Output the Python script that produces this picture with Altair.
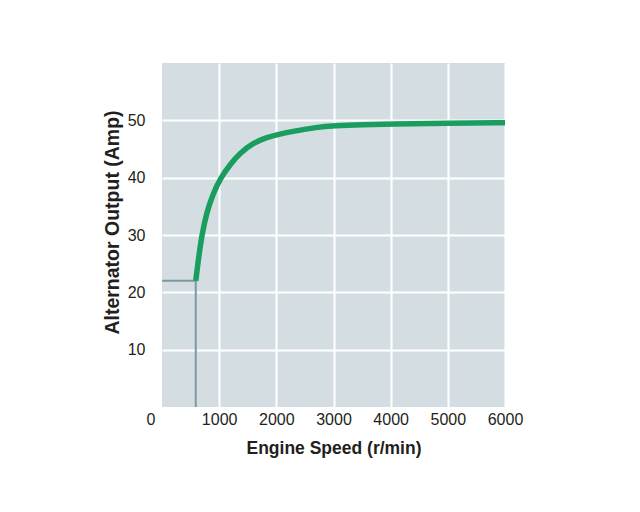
import altair as alt
import pandas as pd

# Alternator output curve
speed = [590, 640, 694, 781, 898, 1015, 1190, 1364, 1598, 1831, 2006, 2297, 2705, 3008, 3500, 4000, 5000, 6000]
amps = [22.0, 26.0, 29.8, 34.0, 37.3, 39.8, 42.3, 44.3, 46.05, 47.0, 47.5, 48.1, 48.8, 49.05, 49.25, 49.35, 49.5, 49.6]

# Idle reference lines
idle_speed = 590
idle_amps = 22

x_ticks = [1000, 2000, 3000, 4000, 5000, 6000]
y_ticks = [10, 20, 30, 40, 50]

FONT = "Liberation Sans, Arial, sans-serif"
TXT = "#231f20"

curve = pd.DataFrame({"speed": speed, "amps": amps})

xs = alt.Scale(domain=[0, 6000], nice=False, zero=False)
ys = alt.Scale(domain=[0, 60], nice=False)

x_axis = alt.Axis(
    values=x_ticks, format="d", labelOverlap=False, labelFlush=False,
    title="Engine Speed (r/min)",
    grid=True, gridColor="white", gridWidth=2, ticks=False, tickSize=0, domain=False,
    labelFont=FONT, labelFontSize=16, labelColor=TXT, labelBaseline="middle",
    labelPadding=12.5,
    titleFont=FONT, titleFontSize=17.5, titleFontWeight="bold", titleColor=TXT,
    titleBaseline="middle", titleAlign="center", titleX=171.5, titleY=41.5,
)
y_axis = alt.Axis(
    values=y_ticks, format="d", labelOverlap=False, labelFlush=False,
    title="Alternator Output (Amp)",
    grid=True, gridColor="white", gridWidth=2, ticks=False, tickSize=0, domain=False,
    labelFont=FONT, labelFontSize=16, labelColor=TXT, labelPadding=17,
    titleFont=FONT, titleFontSize=19.5, titleFontWeight="bold", titleColor=TXT,
    titleBaseline="middle", titleAlign="center", titleAngle=270, titleX=-50, titleY=159,
)

ref_h = pd.DataFrame({"x0": [0], "x1": [idle_speed], "y0": [idle_amps]})
ref_v = pd.DataFrame({"x0": [idle_speed], "y0": [0], "y1": [idle_amps]})

base_line = alt.Chart(curve).mark_line(
    color="#1a9e5f", strokeWidth=5.5, interpolate="basis"
).encode(
    x=alt.X("speed:Q", scale=xs, axis=x_axis),
    y=alt.Y("amps:Q", scale=ys, axis=y_axis),
)

rule_h = alt.Chart(ref_h).mark_rule(color="#8196a3", strokeWidth=2).encode(
    x=alt.X("x0:Q", scale=xs), x2="x1:Q", y=alt.Y("y0:Q", scale=ys)
)
rule_v = alt.Chart(ref_v).mark_rule(color="#8196a3", strokeWidth=2).encode(
    x=alt.X("x0:Q", scale=xs), y=alt.Y("y0:Q", scale=ys), y2="y1:Q"
)

zero_lbl = alt.Chart(pd.DataFrame({"x": [0], "y": [0], "t": ["0"]})).mark_text(
    font=FONT, fontSize=16, color=TXT, baseline="middle", align="center", dx=-11, dy=12.5
).encode(x=alt.X("x:Q", scale=xs), y=alt.Y("y:Q", scale=ys), text="t:N")

chart = alt.layer(rule_h, rule_v, base_line, zero_lbl).properties(
    width=343, height=344,
    autosize=alt.AutoSizeParams(type="none"),
    padding={"left": 154, "top": 55, "right": 127, "bottom": 97},
).configure_view(fill="#d4dee2", stroke=None)

chart.save("out.html", embed_options={"renderer": "svg", "actions": False})
